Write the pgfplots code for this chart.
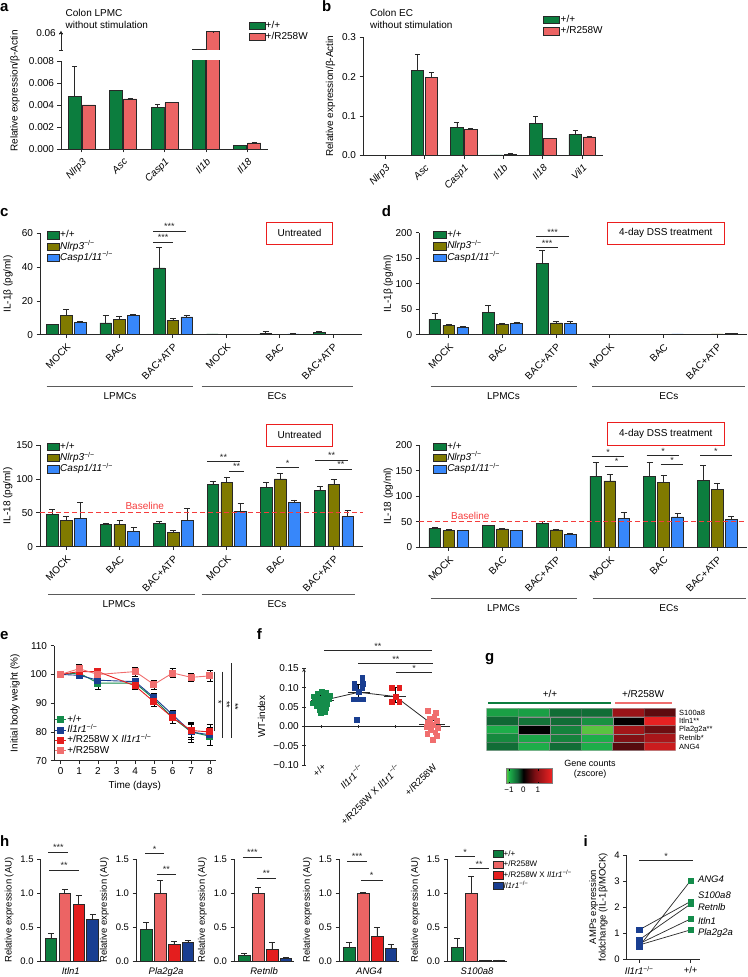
\documentclass[border=0pt]{standalone}
\usepackage{fontspec}
\setmainfont{Liberation Sans}
\usepackage{pgfplots}
\pgfplotsset{compat=1.18}
\definecolor{cgreen}{RGB}{12,125,62}
\definecolor{cpink}{RGB}{236,100,100}
\definecolor{colive}{RGB}{128,122,0}
\definecolor{cblue}{RGB}{55,135,250}
\definecolor{cred}{RGB}{228,30,30}
\definecolor{cnavy}{RGB}{25,62,145}
\definecolor{egreen}{RGB}{20,140,75}
\definecolor{fpink}{RGB}{240,110,110}
\definecolor{axc}{RGB}{40,40,40}
\definecolor{boxred}{RGB}{235,30,30}
\definecolor{basered}{RGB}{245,60,60}
\definecolor{brkc}{RGB}{90,90,90}
\newcommand{\fs}[1]{\fontsize{#1}{#1}\selectfont}
\pgfplotsset{
 gp/.style={scale only axis, axis lines=left, axis line style={-,line width=0.7pt,axc},
   tick align=outside, major tick length=3.5pt, tick style={line width=0.7pt,axc},
   tick label style={font=\fs{10}}, label style={font=\fs{10}},
   /pgf/number format/assume math mode=true, clip=false, scaled y ticks=false,
   legend cell align=left,
   legend style={draw=none, fill=none, font=\fs{10}, inner sep=0pt, outer sep=0pt, row sep=0.4pt,
     nodes={inner sep=0.6pt, text height=7.4pt, text depth=2.3pt}, anchor=north west}},
 mybar/.style={ybar, bar width=#1, bar shift=0pt, draw=axc, line width=0.6pt},
 limg/.style={legend image code/.code={\draw[##1] (0pt,-3.6pt) rectangle (#1,3.6pt);}},
 myerr/.style={/pgfplots/error bars/y dir=plus, /pgfplots/error bars/y explicit,
   /pgfplots/error bars/error bar style={line width=0.6pt, axc, solid},
   /pgfplots/error bars/error mark options={rotate=90, line width=0.6pt, axc, mark size=#1, solid}},
 myerrb/.style={/pgfplots/error bars/y dir=both, /pgfplots/error bars/y explicit,
   /pgfplots/error bars/error bar style={line width=0.6pt, black, solid},
   /pgfplots/error bars/error mark options={rotate=90, line width=0.6pt, black, mark size=#1, solid}},
 grp/.style={xtick={0,...,5}, xticklabels={MOCK,BAC,BAC+ATP,MOCK,BAC,BAC+ATP},
   xticklabel style={rotate=45, anchor=north east, font=\fs{10}}},
 hax/.style={gp, anchor=south west, width=60.2pt, height=102pt, xmin=0.27, xmax=4.6, ymin=0, ymax=1.5,
   ytick={0,0.5,1,1.5}, yticklabel style={/pgf/number format/.cd,fixed,fixed zerofill,precision=1},
   xtick=\empty, tick label style={font=\fs{9.5}}, label style={font=\fs{9.5}},
   ylabel={Relative expression (AU)}, xlabel style={font=\fs{9.5}\itshape}},
}
\tikzset{sigl/.style={line width=0.7pt, axc}, brk/.style={line width=0.9pt, brkc}}
\newcommand{\sig}[4]{\draw[sigl] (#1,#3) -- (#2,#3) node[midway, anchor=base, inner sep=0pt, yshift=1.2pt, font=\fs{9}] {#4};}
\newcommand{\asig}[4]{\draw[sigl] (axis cs:#1,#3) -- (axis cs:#2,#3) node[midway, anchor=base, inner sep=0pt, yshift=1.2pt, font=\fs{9}] {#4};}
\begin{document}
\begin{tikzpicture}
\useasboundingbox (0,0) rectangle (747pt,977pt);
% ================= a =================
\begin{axis}[gp, at={(61pt,828pt)}, anchor=south west, width=207pt, height=88pt, clip=true,
  xmin=-0.5, xmax=4.5, ymin=0, ymax=0.008, ytick={0,0.002,0.004,0.006,0.008},
  yticklabel style={/pgf/number format/.cd, fixed, fixed zerofill, precision=3},
  xtick={0,...,4}, xticklabels={Nlrp3,Asc,Casp1,Il1b,Il18},
  xticklabel style={rotate=45, anchor=north east, font=\fs{10}\itshape},
  legend style={at={(0.906,1.463)}}]
\addplot[mybar=13pt, fill=cgreen, limg=16pt, myerr=2.5pt] coordinates {(-0.169,0.0048) +- (0,0.0027) (0.831,0.0053) +- (0,0) (1.831,0.00375) +- (0,0.00035) (2.831,0.0459) +- (0,0) (3.831,0.0003) +- (0,0)};
\addplot[mybar=13pt, fill=cpink, limg=16pt, myerr=2.5pt] coordinates {(0.169,0.0040) +- (0,0) (1.169,0.00455) +- (0,0.0001) (2.169,0.0042) +- (0,0.00005) (3.169,0.0616) +- (0,0.0001) (4.169,0.00055) +- (0,0.0001)};
\legend{+/+, +/R258W}
\end{axis}
\begin{axis}[gp, at={(61pt,927pt)}, anchor=south west, width=207pt, height=19.3pt, clip=true,
  xmin=-0.5, xmax=4.5, ymin=0.045, ymax=0.0625, ytick={0.045,0.06}, yticklabels={,0.06},
  axis x line=none, axis y line=left]
\addplot[mybar=13pt, fill=cgreen] coordinates {(2.831,0.0459)};
\addplot[mybar=13pt, fill=cpink, myerr=2.5pt] coordinates {(3.169,0.0616) +- (0,0.0001)};
\end{axis}
% ================= b =================
\begin{axis}[gp, at={(363pt,821.7pt)}, anchor=south west, width=240pt, height=118pt,
  xmin=-0.56, xmax=5.53, ymin=0, ymax=0.3, ytick={0,0.1,0.2,0.3},
  yticklabel style={/pgf/number format/.cd, fixed, fixed zerofill, precision=1},
  xtick={0,...,5}, xticklabels={Nlrp3,Asc,Casp1,Il1b,Il18,Vil1},
  xticklabel style={rotate=45, anchor=north east, font=\fs{10}\itshape},
  ylabel={Relative expression/β-Actin},
  legend style={at={(0.752,1.193)}}]
\addplot[mybar=12.5pt, fill=cgreen, limg=16pt, myerr=2.5pt] coordinates {(-0.178,0) +- (0,0) (0.822,0.215) +- (0,0.043) (1.822,0.070) +- (0,0.013) (2.822,0.001) +- (0,0) (3.822,0.082) +- (0,0.016) (4.822,0.053) +- (0,0.011)};
\addplot[mybar=12.5pt, fill=cpink, limg=16pt, myerr=2.5pt] coordinates {(0.178,0) +- (0,0) (1.178,0.198) +- (0,0.013) (2.178,0.065) +- (0,0.003) (3.178,0.003) +- (0,0.001) (4.178,0.042) +- (0,0.001) (5.178,0.047) +- (0,0.001)};
\legend{+/+, +/R258W}
\end{axis}
% ================= c top =================
\begin{axis}[gp, grp, at={(40pt,642.3pt)}, anchor=south west, width=321.7pt, height=101.4pt,
  xmin=-0.49, xmax=5.54, ymin=0, ymax=60, ytick={0,20,40,60},
  ylabel={IL-1β (pg/ml)}, ylabel style={at={(axis description cs:-0.0995,0.5)}, anchor=center},
  legend style={at={(0.0218,1.033)}}]
\addplot[mybar=11.7pt, fill=cgreen, limg=12pt, myerr=3pt] coordinates {(-0.259,6) +- (0,0) (0.741,7) +- (0,4.5) (1.741,39.5) +- (0,12.5) (2.741,0.5) +- (0,0) (3.741,1) +- (0,0.8) (4.741,1.3) +- (0,0.5)};
\addplot[mybar=11.7pt, fill=colive, limg=12pt, myerr=3pt] coordinates {(0,11.5) +- (0,3.5) (1,9.2) +- (0,1.8) (2,8.5) +- (0,1.2) (3,0) +- (0,0) (4,0) +- (0,0) (5,0) +- (0,0)};
\addplot[mybar=11.7pt, fill=cblue, limg=12pt, myerr=3pt] coordinates {(0.259,7.5) +- (0,0.7) (1.259,11.5) +- (0,0.5) (2.259,10.5) +- (0,1.2) (3.259,0.2) +- (0,0) (4.259,0.5) +- (0,0.3) (5.259,0.2) +- (0,0)};
\legend{+/+, \textit{Nlrp3}\textsuperscript{−/−}, \textit{Casp1/11}\textsuperscript{−/−}}
\end{axis}
% ================= c bottom =================
\begin{axis}[gp, grp, at={(40pt,430.3pt)}, anchor=south west, width=322.7pt, height=101.7pt,
  xmin=-0.49, xmax=5.54, ymin=0, ymax=150, ytick={0,50,100,150},
  ylabel={IL-18 (pg/ml)}, ylabel style={at={(axis description cs:-0.0995,0.5)}, anchor=center},
  legend style={at={(0.0218,1.036)}}]
\addplot[mybar=11.7pt, fill=cgreen, limg=12pt, myerr=3pt] coordinates {(-0.259,48) +- (0,7) (0.741,33.4) +- (0,1.6) (1.741,34.4) +- (0,2.6) (2.741,91.5) +- (0,4.5) (3.741,87.5) +- (0,7.5) (4.741,83) +- (0,5.5)};
\addplot[mybar=11.7pt, fill=colive, limg=12pt, myerr=3pt] coordinates {(0,39) +- (0,6) (1,33) +- (0,6) (2,21.6) +- (0,3) (3,94.4) +- (0,8.6) (4,100) +- (0,8) (5,91.5) +- (0,8.5)};
\addplot[mybar=11.7pt, fill=cblue, limg=12pt, myerr=3pt] coordinates {(0.259,42) +- (0,23) (1.259,22) +- (0,6.5) (2.259,39) +- (0,17) (3.259,52.6) +- (0,11.4) (4.259,65.4) +- (0,3.6) (5.259,44.8) +- (0,8.8)};
\addplot[basered, dashed, dash pattern=on 5pt off 3pt, line width=1pt, forget plot] coordinates {(-0.49,50) (5.54,50)};
\legend{+/+, \textit{Nlrp3}\textsuperscript{−/−}, \textit{Casp1/11}\textsuperscript{−/−}}
\end{axis}
% ================= d top =================
\begin{axis}[gp, grp, at={(419.3pt,642.3pt)}, anchor=south west, width=327.4pt, height=102pt,
  xmin=-0.55, xmax=5.55, ymin=0, ymax=200, ytick={0,50,100,150,200},
  ylabel={IL-1β (pg/ml)}, ylabel style={at={(axis description cs:-0.095,0.5)}, anchor=center},
  legend style={at={(0.042,1.03)}}]
\addplot[mybar=11.7pt, fill=cgreen, limg=13pt, myerr=3pt] coordinates {(-0.261,30) +- (0,12) (0.739,44.4) +- (0,13) (1.739,140) +- (0,26) (2.739,0) +- (0,0) (3.739,0) +- (0,0) (4.739,1) +- (0,0)};
\addplot[mybar=11.7pt, fill=colive, limg=13pt, myerr=3pt] coordinates {(0,18.3) +- (0,1.7) (1,19.6) +- (0,2.4) (2,23) +- (0,3) (3,0) +- (0,0) (4,1) +- (0,0) (5,1.5) +- (0,0)};
\addplot[mybar=11.7pt, fill=cblue, limg=13pt, myerr=3pt] coordinates {(0.261,15) +- (0,1.3) (1.261,22) +- (0,3) (2.261,22) +- (0,4) (3.261,1) +- (0,0) (4.261,1.5) +- (0,0) (5.261,2) +- (0,0)};
\legend{+/+, \textit{Nlrp3}\textsuperscript{−/−}, \textit{Casp1/11}\textsuperscript{−/−}}
\end{axis}
% ================= d bottom =================
\begin{axis}[gp, grp, at={(419.3pt,429.7pt)}, anchor=south west, width=327.4pt, height=102.3pt,
  xmin=-0.55, xmax=5.55, ymin=0, ymax=200, ytick={0,50,100,150,200},
  ylabel={IL-18 (pg/ml)}, ylabel style={at={(axis description cs:-0.095,0.5)}, anchor=center},
  legend style={at={(0.042,1.036)}}]
\addplot[mybar=11.7pt, fill=cgreen, limg=13pt, myerr=3pt] coordinates {(-0.261,36.5) +- (0,2) (0.739,42.3) +- (0,1.3) (1.739,47) +- (0,3) (2.739,139) +- (0,27) (3.739,138.8) +- (0,26.7) (4.739,131) +- (0,29)};
\addplot[mybar=11.7pt, fill=colive, limg=13pt, myerr=3pt] coordinates {(0,32.6) +- (0,2.4) (1,35.8) +- (0,1.2) (2,34) +- (0,1) (3,130) +- (0,12.7) (4,126.4) +- (0,15) (5,113.4) +- (0,11.6)};
\addplot[mybar=11.7pt, fill=cblue, limg=13pt, myerr=3pt] coordinates {(0.261,32.6) +- (0,1.4) (1.261,32.6) +- (0,1.4) (2.261,25.4) +- (0,2) (3.261,56.7) +- (0,11) (4.261,59.3) +- (0,6.5) (5.261,54.7) +- (0,6.3)};
\addplot[basered, dashed, dash pattern=on 5pt off 3pt, line width=1pt, forget plot] coordinates {(-0.55,50) (5.55,50)};
\legend{+/+, \textit{Nlrp3}\textsuperscript{−/−}, \textit{Casp1/11}\textsuperscript{−/−}}
\end{axis}
% ================= e =================
\begin{axis}[gp, at={(54pt,216.3pt)}, anchor=south west, width=161.5pt, height=115pt,
  xmin=-0.35, xmax=8.3, ymin=70, ymax=110, xtick={0,...,8}, ytick={70,80,90,100,110},
  xlabel={Time (days)}, ylabel={Initial body weight (\%)},
  ylabel style={at={(axis description cs:-0.241,0.5)}, anchor=center},
  legend style={at={(0.006,0.40)}, row sep=0pt, nodes={inner sep=0.4pt, text height=7.3pt, text depth=2.2pt}},
  legend image code/.code={\draw[mark repeat=2,mark phase=2,#1] plot coordinates {(0pt,0pt) (5.5pt,0pt) (11pt,0pt)};}]
\addplot[egreen, line width=0.9pt, mark=square*, mark size=3pt, mark options={solid}, myerrb=3pt] coordinates {(0,100) +- (0,0) (1,100.5) +- (0,0.5) (2,97) +- (0,2) (4,97) +- (0,1) (5,91.5) +- (0,1.5) (6,85) +- (0,2) (7,80) +- (0,3.5) (8,78.5) +- (0,3)};
\addplot[cnavy, line width=0.9pt, mark=square*, mark size=3pt, mark options={solid}, myerrb=3pt] coordinates {(0,100) +- (0,0) (1,99.7) +- (0,0.8) (2,98) +- (0,1) (4,97.5) +- (0,1) (5,92) +- (0,1.5) (6,86) +- (0,1.5) (7,80) +- (0,2.5) (8,79) +- (0,3.5)};
\addplot[cred, line width=0.9pt, mark=square*, mark size=3pt, mark options={solid}, myerrb=3pt] coordinates {(0,100) +- (0,0) (1,101) +- (0,1) (2,101) +- (0,1) (4,96) +- (0,1) (5,90.5) +- (0,1.5) (6,85) +- (0,2) (7,80.5) +- (0,2.5) (8,80) +- (0,2.5)};
\addplot[fpink, line width=0.9pt, mark=square*, mark size=3pt, mark options={solid}, myerrb=3pt] coordinates {(0,100) +- (0,0) (1,102) +- (0,1.5) (2,100) +- (0,1.5) (4,101) +- (0,1.5) (5,96.5) +- (0,1.5) (6,100.5) +- (0,1.5) (7,99) +- (0,1.5) (8,99.5) +- (0,2)};
\legend{+/+, \textit{Il1r1}\textsuperscript{−/−}, +/R258W X \textit{Il1r1}\textsuperscript{−/−}, +/R258W}
\end{axis}
% ================= f =================
\begin{axis}[gp, at={(304pt,212pt)}, anchor=south west, width=146pt, height=96.7pt,
  xmin=-0.48, xmax=3.48, ymin=-0.1, ymax=0.15, ytick={-0.1,-0.05,0,0.05,0.1,0.15},
  yticklabels={−0.10,−0.05,0.00,0.05,0.10,0.15},
  axis x line=middle, axis y line=left, x axis line style={-}, hide obscured x ticks=false,
  xtick={0,1,2,3}, xticklabels={+/+, \textit{Il1r1}\textsuperscript{−/−}, +/R258W X \textit{Il1r1}\textsuperscript{−/−}, +/R258W},
  xticklabel style={rotate=45, anchor=north east, font=\fs{9.5}}, xticklabel shift=30pt,
  ylabel={WT-index}, ylabel style={at={(axis description cs:-0.29,0.5)}, anchor=center}]
\addplot[only marks, mark=square*, mark size=2.4pt, egreen] coordinates {(-0.22,0.078) (-0.12,0.085) (0.0,0.09) (0.12,0.088) (0.22,0.08) (-0.18,0.068) (-0.06,0.072) (0.06,0.075) (0.18,0.07) (-0.24,0.06) (-0.1,0.062) (0.04,0.065) (0.15,0.058) (-0.15,0.052) (0.0,0.05) (0.12,0.047) (-0.05,0.042) (0.08,0.038) (-0.02,0.035)};
\addplot[only marks, mark=square*, mark size=2.4pt, cnavy] coordinates {(1.1,0.125) (0.88,0.11) (1.12,0.11) (0.9,0.1) (1.1,0.1) (1.0,0.09) (0.87,0.07) (1.0,0.07) (1.12,0.07) (0.95,0.018)};
\addplot[only marks, mark=square*, mark size=2.4pt, cred] coordinates {(1.9,0.10) (2.1,0.10) (2,0.077) (1.9,0.063) (2.1,0.063)};
\addplot[only marks, mark=square*, mark size=2.4pt, fpink] coordinates {(2.88,0.04) (3.1,0.035) (3.05,0.025) (2.92,0.02) (3.12,0.015) (2.88,0.01) (3.02,0.005) (2.85,0.0) (3.14,-0.003) (2.95,-0.01) (3.08,-0.015) (2.86,-0.02) (3.12,-0.025) (3.0,-0.035)};
\addplot[axc, line width=0.8pt] coordinates {(-0.3,0.066) (0.33,0.066)};
\addplot[axc, line width=0.8pt] coordinates {(0.7,0.088) (1.3,0.088)};
\addplot[axc, line width=0.8pt] coordinates {(1.7,0.077) (2.3,0.077)};
\addplot[axc, line width=0.8pt] coordinates {(2.65,0.005) (3.35,0.005)};
\addplot[axc, line width=0.8pt, mark=none, myerrb=4.5pt] coordinates {(0,0.066) += (0,0.014) -= (0,0.014) (1,0.088) += (0,0.020) -= (0,0.018) (2,0.077) += (0,0.023) -= (0,0.014) (3,0.005) += (0,0.011) -= (0,0.018)};
\end{axis}
% ================= g =================
\begin{axis}[at={(486.7pt,226.3pt)}, anchor=south west, scale only axis, width=189pt, height=42.4pt,
  xmin=-0.5, xmax=5.5, ymin=-0.5, ymax=4.5, hide axis,
  colormap={hm}{rgb255(0cm)=(110,200,60); rgb255(2cm)=(30,180,75); rgb255(8cm)=(15,95,50); rgb255(12cm)=(0,0,0); rgb255(20cm)=(125,15,20); rgb255(32cm)=(240,35,35)},
  point meta min=-1.2, point meta max=2,
  colorbar horizontal,
  colorbar style={at={(parent axis.south west)}, anchor=north west, xshift=19.3pt, yshift=-9.3pt,
    width=46.3pt, height=15pt, scale only axis, xtick={-1,0,1}, xticklabels={−1,0,1},
    tick label style={font=\fs{8}}, major tick length=2pt, tick style={black}, axis line style={black!50}}]
\addplot[matrix plot*, mesh/cols=6, point meta=explicit, draw=black!45, line width=0.3pt] table[meta=z] {
x y z
0 0 -0.5
1 0 -0.95
2 0 -0.5
3 0 -0.95
4 0 0.55
5 0 1.6
0 1 -0.7
1 1 -0.9
2 1 -0.65
3 1 -0.95
4 1 0.85
5 1 1.25
0 2 -0.95
1 2 0.0
2 2 -0.65
3 2 -1.15
4 2 1.2
5 2 0.7
0 3 -0.45
1 3 -0.55
2 3 -0.5
3 3 -0.75
4 3 0.02
5 3 1.9
0 4 -0.85
1 4 -0.85
2 4 -0.5
3 4 -0.5
4 4 1.1
5 4 0.6
};
\end{axis}
% ================= h =================
\begin{axis}[hax, at={(40.7pt,16pt)}, xlabel={Itln1}]
\addplot[mybar=11.7pt, fill=cgreen, myerr=3pt] coordinates {(1,0.34) +- (0,0.07)};
\addplot[mybar=11.7pt, fill=cpink, myerr=3pt] coordinates {(2,1.0) +- (0,0.05)};
\addplot[mybar=11.7pt, fill=cred, myerr=3pt] coordinates {(3,0.83) +- (0,0.13)};
\addplot[mybar=11.7pt, fill=cnavy, myerr=3pt] coordinates {(4,0.62) +- (0,0.07)};
\asig{0.82}{2.26}{1.6}{***}
\asig{0.9}{3.0}{1.34}{**}
\end{axis}
\begin{axis}[hax, at={(136pt,16pt)}, xlabel={Pla2g2a}]
\addplot[mybar=11.7pt, fill=cgreen, myerr=3pt] coordinates {(1,0.47) +- (0,0.10)};
\addplot[mybar=11.7pt, fill=cpink, myerr=3pt] coordinates {(2,1.0) +- (0,0.18)};
\addplot[mybar=11.7pt, fill=cred, myerr=3pt] coordinates {(3,0.24) +- (0,0.05)};
\addplot[mybar=11.7pt, fill=cnavy, myerr=3pt] coordinates {(4,0.27) +- (0,0.03)};
\asig{0.92}{2.29}{1.58}{*}
\asig{1.76}{3.15}{1.28}{**}
\end{axis}
\begin{axis}[hax, at={(234pt,16pt)}, xlabel={Retnlb}]
\addplot[mybar=11.7pt, fill=cgreen, myerr=3pt] coordinates {(1,0.08) +- (0,0.03)};
\addplot[mybar=11.7pt, fill=cpink, myerr=3pt] coordinates {(2,1.0) +- (0,0.09)};
\addplot[mybar=11.7pt, fill=cred, myerr=3pt] coordinates {(3,0.17) +- (0,0.11)};
\addplot[mybar=11.7pt, fill=cnavy, myerr=3pt] coordinates {(4,0.04) +- (0,0.01)};
\asig{0.9}{2.3}{1.53}{***}
\asig{1.9}{3.3}{1.22}{**}
\end{axis}
\begin{axis}[hax, at={(339pt,16pt)}, xlabel={ANG4}]
\addplot[mybar=11.7pt, fill=cgreen, myerr=3pt] coordinates {(1,0.20) +- (0,0.07)};
\addplot[mybar=11.7pt, fill=cpink, myerr=3pt] coordinates {(2,1.0) +- (0,0.01)};
\addplot[mybar=11.7pt, fill=cred, myerr=3pt] coordinates {(3,0.36) +- (0,0.14)};
\addplot[mybar=11.7pt, fill=cnavy, myerr=3pt] coordinates {(4,0.18) +- (0,0.06)};
\asig{0.85}{2.3}{1.47}{***}
\asig{1.85}{3.4}{1.19}{*}
\end{axis}
\begin{axis}[hax, at={(447pt,16pt)}, xlabel={S100a8},
  legend style={at={(0.756,1.097)}, font=\fs{8}, row sep=1pt, nodes={inner sep=0.6pt, text height=6.5pt, text depth=2pt}}]
\addplot[mybar=11.7pt, fill=cgreen, limg=10pt, myerr=3pt] coordinates {(1,0.20) +- (0,0.14)};
\addplot[mybar=11.7pt, fill=cpink, limg=10pt, myerr=3pt] coordinates {(2,1.0) +- (0,0.24)};
\addplot[mybar=11.7pt, fill=cred, limg=10pt, myerr=3pt] coordinates {(3,0.01) +- (0,0)};
\addplot[mybar=11.7pt, fill=cnavy, limg=10pt, myerr=3pt] coordinates {(4,0.015) +- (0,0)};
\asig{0.85}{2.3}{1.54}{*}
\asig{1.85}{3.3}{1.36}{**}
\legend{+/+, +/R258W, +/R258W X \textit{Il1r1}\textsuperscript{−/−}, \textit{Il1r1}\textsuperscript{−/−}}
\end{axis}
% ================= i =================
\begin{axis}[gp, at={(626.7pt,17.7pt)}, anchor=south west, width=73.2pt, height=104.3pt,
  xmin=-0.245, xmax=1.18, ymin=0, ymax=4, ytick={0,1,2,3,4}, xtick={0,1},
  xticklabels={\textit{Il1r1}\textsuperscript{−/−}, +/+},
  tick label style={font=\fs{9.5}}, label style={font=\fs{9.5}},
  ylabel={AMPs expression\\foldchange (IL-1β/MOCK)}, ylabel style={align=center}]
\addplot[axc, line width=0.7pt] coordinates {(0,1.13) (1,2.22)};
\addplot[axc, line width=0.7pt] coordinates {(0,0.75) (1,2.12)};
\addplot[axc, line width=0.7pt] coordinates {(0,0.6) (1,1.55)};
\addplot[axc, line width=0.7pt] coordinates {(0,0.55) (1,1.13)};
\addplot[axc, line width=0.7pt] coordinates {(0,0.5) (1,3.02)};
\addplot[only marks, mark=square*, mark size=2.6pt, cnavy] coordinates {(0,1.13) (0,0.75) (0,0.6) (0,0.55) (0,0.5)};
\addplot[only marks, mark=square*, mark size=2.6pt, egreen] coordinates {(1,3.02) (1,2.22) (1,2.12) (1,1.55) (1,1.13)};
\asig{0}{1.04}{3.8}{*}
\node[anchor=west, font=\fs{9.5}\itshape, inner sep=0pt] at (axis cs:1.14,3.08) {ANG4};
\node[anchor=west, font=\fs{9.5}\itshape, inner sep=0pt] at (axis cs:1.14,2.47) {S100a8};
\node[anchor=west, font=\fs{9.5}\itshape, inner sep=0pt] at (axis cs:1.14,2.02) {Retnlb};
\node[anchor=west, font=\fs{9.5}\itshape, inner sep=0pt] at (axis cs:1.14,1.47) {Itln1};
\node[anchor=west, font=\fs{9.5}\itshape, inner sep=0pt] at (axis cs:1.14,1.02) {Pla2g2a};
\end{axis}
% ================= annotations (pixel coordinates) =================
\begin{scope}[x=1pt, y=-1pt, yshift=977pt]
\foreach \l/\xx/\yy in {a/0/11.7, b/322/11.7, c/0/216.7, d/381.7/216.7, e/0/640, f/256.7/640, g/485/661.7, h/0/846.7, i/583.3/846.7}
  \node[anchor=base west, inner sep=0pt, font=\fs{15}\bfseries] at (\xx,\yy) {\l};
\node[anchor=west, inner sep=0pt, font=\fs{10}] at (65.5,13.3) {Colon LPMC};
\node[anchor=west, inner sep=0pt, font=\fs{10}] at (65.5,25) {without stimulation};
\node[anchor=west, inner sep=0pt, font=\fs{10}] at (370,13.3) {Colon EC};
\node[anchor=west, inner sep=0pt, font=\fs{10}] at (370,25) {without stimulation};
\node[rotate=90, font=\fs{10}] at (15,91) {Relative expression/β-Actin};
% boxes
\draw[boxred, line width=0.8pt] (266.7,222.3) rectangle (332.3,244);
\node[font=\fs{10}] at (299.5,233.2) {Untreated};
\draw[boxred, line width=0.8pt] (266.7,424.3) rectangle (332.3,446);
\node[font=\fs{10}] at (299.5,435.2) {Untreated};
\draw[boxred, line width=0.8pt] (607.3,222.3) rectangle (724.3,244.3);
\node[font=\fs{10}] at (665.8,233.3) {4-day DSS treatment};
\draw[boxred, line width=0.8pt] (607.3,422.7) rectangle (724.3,445);
\node[font=\fs{10}] at (665.8,433.9) {4-day DSS treatment};
% brackets
\draw[brk] (46.7,386) -- (193.3,386); \node[font=\fs{10}] at (120,396) {LPMCs};
\draw[brk] (201.7,386) -- (353.3,386); \node[font=\fs{10}] at (277,396) {ECs};
\draw[brk] (48,594.3) -- (195,594.3); \node[font=\fs{10}] at (119,604.5) {LPMCs};
\draw[brk] (201.7,594.3) -- (355,594.3); \node[font=\fs{10}] at (277,604.5) {ECs};
\draw[brk] (430.7,386) -- (576.7,386); \node[font=\fs{10}] at (503.5,396) {LPMCs};
\draw[brk] (592.3,386) -- (745,386); \node[font=\fs{10}] at (668.8,396) {ECs};
\draw[brk] (430.7,598.3) -- (577.3,598.3); \node[font=\fs{10}] at (503.5,608.5) {LPMCs};
\draw[brk] (592.7,598.3) -- (746,598.3); \node[font=\fs{10}] at (668.8,608.5) {ECs};
% baseline labels
\node[text=basered, font=\fs{10}] at (144.7,505.5) {Baseline};
\node[text=basered, font=\fs{10}] at (470.3,515.5) {Baseline};
% significance
\sig{153}{185.7}{231}{***} \sig{153}{173.3}{242}{***}
\sig{207}{240}{461.7}{**} \sig{229}{244}{471}{**} \sig{276}{299.3}{467.3}{*} \sig{315}{348.3}{460}{**} \sig{329.3}{352.3}{469}{**}
\sig{536}{569}{236.7}{***} \sig{536}{558.3}{247.7}{***}
\sig{591.7}{624.3}{456.7}{*} \sig{605.3}{627.7}{466}{*} \sig{646.7}{679.3}{455.7}{*} \sig{660.7}{683.3}{464.3}{*} \sig{700}{731.7}{455.7}{*}
\sig{324}{431.7}{650.7}{**} \sig{358.3}{433.3}{663.3}{**} \sig{396}{432.3}{672.3}{*}
% e vertical significance
\draw[sigl] (214.3,671.7) -- (214.3,731);
\draw[sigl] (222.7,671.7) -- (222.7,737.7);
\draw[sigl] (231,663.3) -- (231,737.7);
\node[rotate=-90, font=\fs{9}, inner sep=0pt] at (218.5,702) {*};
\node[rotate=-90, font=\fs{9}, inner sep=0pt] at (226.8,705) {**};
\node[rotate=-90, font=\fs{9}, inner sep=0pt] at (235.2,707) {**};
% g annotations
\node[font=\fs{10}] at (550,694) {+/+};
\draw[cgreen, line width=2pt] (488.3,702.7) -- (610.7,702.7);
\node[font=\fs{10}] at (643,694) {+/R258W};
\draw[fpink, line width=2pt] (615,702.7) -- (672.3,702.7);
\foreach \t/\yy in {S100a8/712.5, Itln1**/721, Pla2g2a**/729.5, Retnlb*/738, ANG4/746.5}
  \node[anchor=west, inner sep=0pt, font=\fs{7.5}] at (679,\yy) {\t};
\node[font=\fs{9}] at (590,763.3) {Gene counts};
\node[font=\fs{9}] at (590,774) {(zscore)};
\end{scope}
\end{tikzpicture}
\end{document}
